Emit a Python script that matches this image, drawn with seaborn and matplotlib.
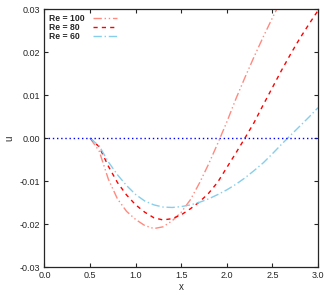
import numpy as np
import pandas as pd
import seaborn as sns
import matplotlib.pyplot as plt

x = [0.5, 0.6, 0.7, 0.8, 0.9, 1.0, 1.1, 1.2, 1.3, 1.4, 1.5, 1.6, 1.7,
     1.8, 1.9, 2.0, 2.1, 2.2, 2.3, 2.4, 2.5, 2.6, 2.7, 2.8, 2.9, 3.0]

u_re100 = [0.0, -0.0030, -0.0095, -0.0141, -0.0170, -0.0189, -0.0203, -0.0210,
           -0.0206, -0.0192, -0.0172, -0.0143, -0.0104, -0.0060, -0.0012, 0.0038,
           0.0092, 0.0142, 0.0190, 0.0236, 0.0280, 0.0322, 0.0362, 0.0400,
           0.0437, 0.0473]
u_re80 = [0.0, -0.0020, -0.0065, -0.0103, -0.0132, -0.0155, -0.0172, -0.0185,
          -0.0190, -0.0187, -0.0178, -0.0164, -0.0148, -0.0128, -0.0102, -0.0068,
          -0.0034, 0.0001, 0.0037, 0.0078, 0.0118, 0.0158, 0.0196, 0.0232,
          0.0265, 0.0297]
u_re60 = [0.0, -0.0018, -0.0055, -0.0085, -0.0110, -0.0131, -0.0146, -0.0155,
          -0.0160, -0.0161, -0.0159, -0.0155, -0.0149, -0.0141, -0.0131, -0.0120,
          -0.0107, -0.0092, -0.0075, -0.0057, -0.0036, -0.0014, 0.0007, 0.0028,
          0.0049, 0.0071]

labels = ["Re = 100", "Re = 80", "Re = 60"]
colors = ["#ff8a80", "#ff0000", "#87ceeb"]
dashes = [(6, 2, 1, 2, 1, 2), (3, 3), (6, 2, 1, 2)]

sns.set_style("ticks")
plt.rcParams['font.family'] = ['Liberation Sans', 'DejaVu Sans']
plt.rcParams['xtick.direction'] = 'in'
plt.rcParams['ytick.direction'] = 'in'

fig = plt.figure(figsize=(3.32, 2.95), dpi=100)
ax = fig.add_axes([0.134, 0.094, 0.824, 0.875])

for ys, lab, col, d in zip([u_re100, u_re80, u_re60], labels, colors, dashes):
    df = pd.DataFrame({"x": x, "u": ys})
    # pad the shorter labels so the text stays left aligned (2 spaces = 1 digit)
    pad = " " * (2 * (len(labels[0]) - len(lab)))
    sns.lineplot(data=df, x="x", y="u", ax=ax, color=col, lw=1.0,
                 dashes=False, label=lab + pad)
    ax.lines[-1].set_dashes(d)

ax.axhline(0, color="blue", lw=1.0, ls=(0, (1, 2)))

ax.set_xlim(0, 3.0)
ax.set_ylim(-0.03, 0.03)
ax.set_xticks(np.arange(0, 3.01, 0.5))
ax.set_yticks([-0.03, -0.02, -0.01, 0.0, 0.01, 0.02, 0.03])
ax.xaxis.set_major_formatter(plt.FormatStrFormatter('%.1f'))
ax.yaxis.set_major_formatter(plt.FormatStrFormatter('%.2f'))
ax.tick_params(top=True, right=True, labelsize=6.5, length=3, width=0.8, pad=3)
for s in ax.spines.values():
    s.set_linewidth(0.9)
ax.set_xlabel("x", fontsize=7, labelpad=1)
ax.set_ylabel("u", fontsize=7, labelpad=4)

ax.legend(loc="upper left", frameon=False, markerfirst=False,
          prop={'weight': 'bold', 'size': 6.2}, handlelength=2.8,
          borderaxespad=0.15, labelspacing=0.0, handletextpad=0.95)

fig.savefig("out.png", dpi=100)
